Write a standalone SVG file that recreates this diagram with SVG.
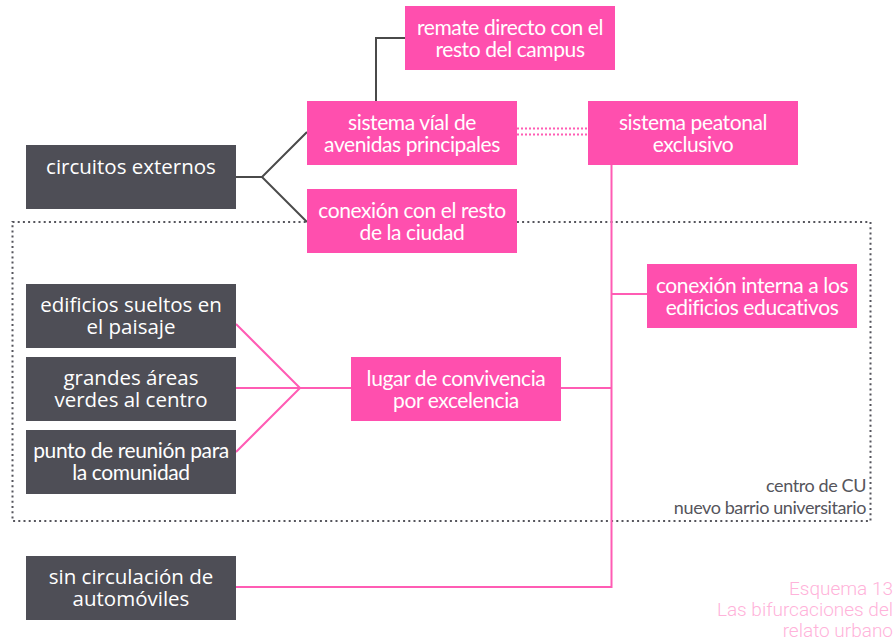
<svg xmlns="http://www.w3.org/2000/svg" width="896" height="643" viewBox="0 0 896 643">
<style>
.dk{fill:#4e4e56}
.pk{fill:#ff4fae}
.td{font-family:"Open Sans","Noto Sans",sans-serif;font-size:20.5px;fill:#ffffff;text-anchor:middle}
.tp{font-family:Lato,"Liberation Sans",sans-serif;font-size:21px;fill:#ffffff;text-anchor:middle;letter-spacing:-0.4px}
.gl{fill:none;stroke:#4a4a4a;stroke-width:2}
.pl{fill:none;stroke:#ff5cb4;stroke-width:2}
.lab{font-family:Lato,"Liberation Sans",sans-serif;font-size:18px;fill:#55555c;text-anchor:end;letter-spacing:-0.4px}
.foot{font-family:Roboto,"Liberation Sans",sans-serif;font-weight:300;font-size:19px;fill:#ffb3da;text-anchor:end}
</style>
<rect x="0" y="0" width="896" height="643" fill="#ffffff"/>
<g id="frame">
<rect x="12.5" y="222" width="858" height="299" fill="none" stroke="#55555c" stroke-width="2" stroke-dasharray="2 3.2"/>
<text class="lab" x="866" y="492">centro de CU</text>
<text class="lab" x="866" y="514">nuevo barrio universitario</text>
</g>
<g id="connectors">
<polyline class="gl" points="236,177 262,177 307,132"/>
<polyline class="gl" points="262,177 307,222"/>
<polyline class="gl" points="376,101 376,38 405,38"/>
<line class="pl" x1="517" y1="128.5" x2="588" y2="128.5" stroke-dasharray="2 2"/>
<line class="pl" x1="517" y1="134.5" x2="588" y2="134.5" stroke-dasharray="2 2"/>
<polyline class="pl" points="611.5,165 611.5,587 236,587"/>
<line class="pl" x1="611.5" y1="294" x2="647" y2="294"/>
<line class="pl" x1="561" y1="388" x2="611.5" y2="388"/>
<polyline class="pl" points="236,324 300,388 236,452"/>
<line class="pl" x1="236" y1="388" x2="351" y2="388"/>
</g>
<g id="n-circuitos"><rect class="dk" x="26" y="145" width="210" height="64"/><text class="td" x="131" y="174">circuitos externos</text></g>
<g id="n-remate"><rect class="pk" x="405" y="6" width="210" height="64"/><text class="tp" x="510" y="35">remate directo con el</text><text class="tp" x="510" y="57">resto del campus</text></g>
<g id="n-vial"><rect class="pk" x="307" y="101" width="210" height="64"/><text class="tp" x="412" y="130">sistema víal de</text><text class="tp" x="412" y="152">avenidas principales</text></g>
<g id="n-conexion-ciudad"><rect class="pk" x="307" y="189" width="210" height="64"/><text class="tp" x="412" y="218">conexión con el resto</text><text class="tp" x="412" y="240">de la ciudad</text></g>
<g id="n-peatonal"><rect class="pk" x="588" y="101" width="210" height="64"/><text class="tp" x="693" y="130">sistema peatonal</text><text class="tp" x="693" y="152">exclusivo</text></g>
<g id="n-interna"><rect class="pk" x="647" y="264" width="210" height="64"/><text class="tp" x="752" y="293">conexión interna a los</text><text class="tp" x="752" y="315">edificios educativos</text></g>
<g id="n-edificios"><rect class="dk" x="26" y="284" width="210" height="64"/><text class="td" x="131" y="312">edificios sueltos en</text><text class="td" x="131" y="334">el paisaje</text></g>
<g id="n-areas"><rect class="dk" x="26" y="357" width="210" height="64"/><text class="td" x="131" y="385">grandes áreas</text><text class="td" x="131" y="407">verdes al centro</text></g>
<g id="n-reunion"><rect class="dk" x="26" y="430" width="210" height="64"/><text class="tp" x="131" y="458">punto de reunión para</text><text class="tp" x="131" y="480">la comunidad</text></g>
<g id="n-lugar"><rect class="pk" x="351" y="357" width="210" height="64"/><text class="tp" x="456" y="386">lugar de convivencia</text><text class="tp" x="456" y="408">por excelencia</text></g>
<g id="n-sin"><rect class="dk" x="26" y="556" width="210" height="64"/><text class="td" x="131" y="584">sin circulación de</text><text class="td" x="131" y="606">automóviles</text></g>
<g id="caption">
<text class="foot" x="893" y="595">Esquema 13</text>
<text class="foot" x="893" y="616">Las bifurcaciones del</text>
<text class="foot" x="893" y="637">relato urbano</text>
</g>
</svg>
